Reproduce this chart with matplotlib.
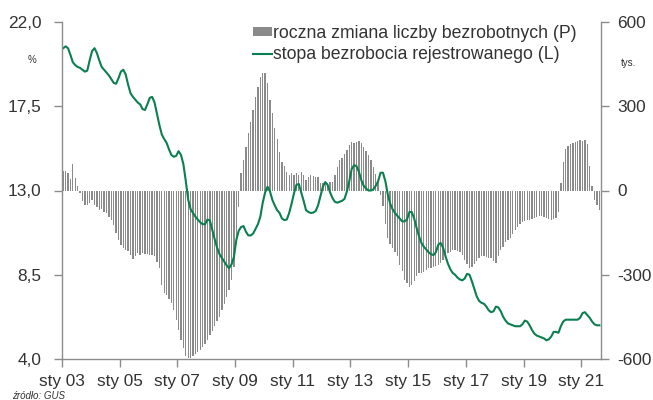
import matplotlib
matplotlib.use("Agg")
import matplotlib.pyplot as plt
from matplotlib.patches import Patch
from matplotlib.lines import Line2D

plt.rcParams['font.family'] = ['Liberation Sans', 'DejaVu Sans']

# stopa bezrobocia rejestrowanego, %, miesięcznie od stycznia 2003
stopa = [
    20.6, 20.7, 20.6, 20.25, 19.85, 19.7, 19.6, 19.55, 19.45, 19.35, 19.4, 19.95,   # 2003
    20.45, 20.6, 20.35, 19.95, 19.6, 19.45, 19.3, 19.15, 18.95, 18.75, 18.7, 19.0,  # 2004
    19.35, 19.45, 19.2, 18.65, 18.2, 18.0, 17.85, 17.7, 17.6, 17.35, 17.3, 17.6,    # 2005
    17.95, 18.0, 17.7, 17.1, 16.5, 16.0, 15.75, 15.55, 15.2, 14.9, 14.8, 14.85,     # 2006
    15.1, 14.9, 14.4, 13.5, 12.5, 12.0, 11.8, 11.6, 11.45, 11.3, 11.2, 11.2,        # 2007
    11.45, 11.4, 10.9, 10.4, 9.95, 9.6, 9.4, 9.2, 9.0, 8.85, 9.05, 9.45,            # 2008
    10.35, 10.85, 11.05, 11.1, 10.8, 10.6, 10.6, 10.7, 10.95, 11.2, 11.6, 12.35,    # 2009
    12.9, 13.2, 12.95, 12.5, 12.2, 11.95, 11.8, 11.5, 11.42, 11.45, 11.8, 12.3,     # 2010
    12.85, 13.3, 13.35, 12.9, 12.45, 11.95, 11.85, 11.8, 11.82, 11.9, 12.2, 12.7,   # 2011
    13.2, 13.45, 13.3, 12.9, 12.6, 12.4, 12.35, 12.4, 12.45, 12.55, 12.95, 13.5,    # 2012
    14.15, 14.35, 14.3, 14.0, 13.55, 13.25, 13.1, 13.0, 13.0, 13.05, 13.25, 13.5,   # 2013
    13.95, 13.95, 13.5, 12.8, 12.3, 12.0, 11.8, 11.65, 11.5, 11.35, 11.35, 11.45,   # 2014
    11.85, 11.85, 11.5, 11.0, 10.55, 10.2, 10.0, 9.85, 9.7, 9.6, 9.55, 9.7,         # 2015
    10.1, 10.2, 9.95, 9.5, 9.1, 8.8, 8.6, 8.5, 8.35, 8.25, 8.2, 8.3,                # 2016
    8.55, 8.5, 8.15, 7.75, 7.35, 7.1, 7.0, 6.95, 6.8, 6.6, 6.5, 6.55,               # 2017
    6.8, 6.75, 6.55, 6.25, 6.05, 5.9, 5.85, 5.8, 5.75, 5.75, 5.75, 5.85,            # 2018
    6.05, 6.0, 5.8, 5.55, 5.35, 5.25, 5.2, 5.15, 5.1, 5.0, 5.05, 5.2,               # 2019
    5.45, 5.45, 5.4, 5.75, 6.0, 6.1, 6.1, 6.1, 6.1, 6.1, 6.1, 6.2,                  # 2020
    6.45, 6.5, 6.35, 6.2, 6.0, 5.85, 5.8, 5.8,                                      # 2021
]

# roczna zmiana liczby bezrobotnych, tys.
zmiana = [
    68, 68, 62, 40, 95, 43, 16, -8, -39, -51, -51, -43,                  # 2003
    -33, -51, -59, -71, -66, -75, -81, -95, -104, -122, -152, -176,      # 2004
    -193, -205, -211, -217, -229, -245, -235, -221, -229, -223, -227, -226,  # 2005
    -229, -229, -233, -253, -277, -336, -366, -372, -385, -400, -425, -461,  # 2006
    -496, -532, -561, -591, -597, -597, -590, -582, -575, -568, -556, -545,  # 2007
    -532, -514, -500, -484, -466, -449, -425, -405, -380, -355, -319, -271,  # 2008
    -170, -58, 62, 108, 156, 204, 245, 287, 334, 370, 405, 419,          # 2009
    419, 382, 322, 275, 224, 183, 136, 103, 88, 67, 55, 61,              # 2010
    55, 61, 55, 67, 55, 37, 49, 55, 52, 49, 47, 26,                      # 2011
    26, 30, 26, 29, 31, 55, 85, 109, 117, 129, 144, 162,                 # 2012
    172, 170, 174, 177, 168, 156, 142, 126, 109, 85, 59, 35,             # 2013
    -15, -55, -120, -170, -192, -204, -218, -235, -265, -287, -319, -331,  # 2014
    -342, -336, -322, -303, -295, -295, -289, -283, -277, -275, -271, -268,  # 2015
    -265, -259, -248, -236, -224, -218, -213, -212, -215, -220, -230, -247,  # 2016
    -263, -275, -271, -263, -251, -239, -232, -234, -237, -241, -241, -252,  # 2017
    -259, -235, -213, -200, -185, -177, -168, -155, -142, -130, -118, -112,  # 2018
    -108, -106, -105, -102, -97, -93, -92, -92, -94, -98, -103, -104,    # 2019
    -101, -99, -78, 26, 103, 147, 158, 166, 170, 174, 178, 180,          # 2020
    176, 180, 166, 87, 16, -34, -52, -70,                                # 2021
]

x_labels = ['sty 03', 'sty 05', 'sty 07', 'sty 09', 'sty 11',
            'sty 13', 'sty 15', 'sty 17', 'sty 19', 'sty 21']
left_ticks = [4.0, 8.5, 13.0, 17.5, 22.0]
right_ticks = [-600, -300, 0, 300, 600]

green = '#0b7f4f'
bar_grey = '#8a8a8a'
axis_grey = '#8c8c8c'
text_col = '#333333'
fs = 12.4

months = list(range(len(zmiana)))

fig = plt.figure(figsize=(6.53, 4.0), dpi=100)
ax_bar = fig.add_axes([62 / 653, 41 / 400, 539 / 653, 337 / 400])
ax_line = ax_bar.twinx()

ax_bar.bar(months, zmiana, width=0.55, color=bar_grey, linewidth=0)
ax_line.plot(range(len(stopa)), stopa, color=green, linewidth=1.5)

ax_bar.set_xlim(-0.5, 223.7)
ax_bar.set_ylim(-600, 600)
ax_line.set_ylim(4, 22)

ax_bar.set_xticks([24 * i - 0.5 for i in range(len(x_labels))])
ax_bar.set_xticklabels(x_labels)
ax_bar.set_yticks(right_ticks)
ax_bar.set_yticklabels([str(v) for v in right_ticks])
ax_bar.yaxis.tick_right()

ax_line.set_yticks(left_ticks)
ax_line.set_yticklabels([f"{v:.1f}".replace('.', ',') for v in left_ticks])
ax_line.yaxis.tick_left()

for s in ['top', 'left']:
    ax_bar.spines[s].set_visible(False)
for s in ['top', 'right', 'bottom']:
    ax_line.spines[s].set_visible(False)
for sp in [ax_bar.spines['right'], ax_bar.spines['bottom'], ax_line.spines['left']]:
    sp.set_color(axis_grey)
    sp.set_linewidth(1.0)

ax_bar.tick_params(axis='x', direction='out', length=6, width=1.0, color=axis_grey,
                   labelsize=fs, labelcolor=text_col, pad=5)
ax_bar.tick_params(axis='y', direction='out', length=6, width=1.0, color=axis_grey,
                   labelsize=fs, labelcolor=text_col, pad=5.5)
ax_line.tick_params(axis='y', direction='out', length=6, width=1.0, color=axis_grey,
                    labelsize=fs, labelcolor=text_col, pad=9)

handles = [Patch(facecolor=bar_grey, edgecolor='none'),
           Line2D([], [], color=green, linewidth=1.5)]
labels = ['roczna zmiana liczby bezrobotnych (P)', 'stopa bezrobocia rejestrowanego (L)']
fig.legend(handles, labels, loc='upper left', bbox_to_anchor=(253 / 653, 1 - 25 / 400),
           frameon=False, fontsize=fs + 0.3, handlelength=1.1, handleheight=0.45,
           handletextpad=0.05, labelspacing=0.25, borderpad=0, borderaxespad=0,
           labelcolor=text_col)

fig.text(32 / 653, 1 - 60 / 400, '%', fontsize=7, color=text_col, ha='center', va='center')
fig.text(628 / 653, 1 - 63 / 400, 'tys.', fontsize=7, color=text_col, ha='center', va='center')
fig.text(12 / 653, 1 - 396 / 400, 'źródło: GUS', fontsize=7, style='italic',
         color=text_col, ha='left', va='center')

fig.savefig('out.png', dpi=100)
